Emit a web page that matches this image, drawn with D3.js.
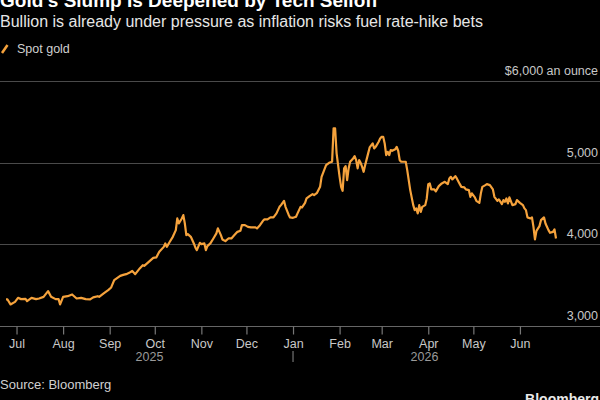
<!DOCTYPE html>
<html>
<head>
<meta charset="utf-8">
<script src="https://cdn.jsdelivr.net/npm/d3@7"></script>
<style>
  html, body { margin: 0; padding: 0; background: #000; }
  svg { display: block; }
  text { font-family: "Liberation Sans", Arial, sans-serif; }
</style>
</head>
<body>
<svg id="chart" width="600" height="400"></svg>
<script>
// values (days counted from 1 Jul 2025)
const startDay = "2025-07-01";
const dayOffsets = [
  -7, -6, -4, -1, 1, 3, 6, 7, 10, 13, 15, 18, 21, 23, 26, 28, 29, 31, 34, 37,
  40, 43, 46, 49, 51, 54, 55, 58, 61, 63, 65, 69, 71, 73, 75, 77, 79, 82, 84, 85,
  88, 91, 93, 95, 98, 99, 100, 102, 104, 106, 107, 108, 110, 111, 112, 113, 114, 116, 118, 119,
  120, 122, 123, 125, 126, 127, 129, 131, 133, 134, 136, 137, 139, 141, 143, 145, 147, 149, 150, 152,
  154, 156, 159, 160, 162, 164, 165, 167, 169, 171, 173, 175, 176, 178, 179, 181, 182, 184, 186, 187,
  189, 190, 192, 193, 195, 197, 198, 200, 202, 203, 206, 208, 210, 211, 212, 213, 215, 216, 217, 218,
  219, 220, 221, 222, 224, 225, 226, 227, 228, 229, 230, 231, 232, 234, 235, 237, 238, 239, 241, 242,
  243, 244, 245, 246, 247, 248, 249, 250, 252, 253, 254, 255, 256, 259, 260, 262, 264, 265, 266, 267,
  268, 269, 270, 272, 273, 274, 275, 276, 278, 279, 281, 283, 285, 287, 288, 289, 290, 292, 293, 295,
  296, 298, 299, 301, 302, 303, 305, 306, 308, 309, 310, 312, 313, 315, 317, 318, 320, 321, 323, 324,
  325, 326, 327, 328, 330, 332, 333, 335, 337, 338, 339, 340, 342, 343, 344, 345, 346, 348, 349, 351,
  352, 354, 355, 357, 358, 359
];
const spotGold = [
  3325, 3325, 3264, 3296, 3345, 3329, 3332, 3304, 3345, 3329, 3337, 3357, 3427, 3357, 3329, 3329, 3264, 3357, 3365, 3386,
  3337, 3345, 3329, 3325, 3350, 3365, 3357, 3399, 3439, 3472, 3561, 3614, 3626, 3635, 3651, 3675, 3635, 3705, 3745, 3737,
  3786, 3835, 3840, 3908, 3969, 4011, 3969, 4031, 4092, 4174, 4317, 4256, 4317, 4358, 4256, 4113, 4125, 4092, 4011, 3962,
  3929, 4018, 4002, 4011, 3929, 3978, 4011, 4072, 4134, 4195, 4113, 4060, 4039, 4072, 4072, 4113, 4153, 4166, 4235, 4235,
  4214, 4207, 4207, 4195, 4235, 4288, 4305, 4305, 4330, 4330, 4379, 4459, 4480, 4533, 4459, 4366, 4330, 4325, 4337, 4379,
  4459, 4452, 4508, 4562, 4590, 4615, 4603, 4631, 4704, 4827, 4970, 4998, 5011, 5420, 5420, 5114, 4827, 4704, 4655, 4930,
  4958, 4786, 4930, 5011, 5052, 5080, 5031, 4930, 5031, 4998, 4949, 4888, 4970, 5114, 5187, 5236, 5175, 5194, 5256, 5297,
  5317, 5317, 5236, 5093, 5133, 5093, 5154, 5145, 5163, 5194, 5145, 5031, 5011, 5011, 4909, 4664, 4480, 4419, 4440, 4379,
  4480, 4398, 4459, 4480, 4562, 4737, 4746, 4673, 4673, 4648, 4713, 4746, 4766, 4737, 4807, 4827, 4795, 4835, 4807, 4737,
  4704, 4697, 4673, 4664, 4582, 4624, 4575, 4533, 4508, 4624, 4704, 4725, 4737, 4725, 4673, 4582, 4533, 4550, 4492, 4541,
  4521, 4562, 4501, 4575, 4480, 4492, 4541, 4508, 4480, 4440, 4419, 4330, 4317, 4330, 4214, 4060, 4165, 4223, 4296, 4330,
  4256, 4174, 4141, 4153, 4183, 4072
];
const yTicks = [3000, 4000, 5000, 6000];
const yTickLabels = ["3,000", "4,000", "5,000", "$6,000 an ounce"];
const yearLabels = ["2025", "2026"];

const title = "Gold's Slump Is Deepened by Tech Selloff";
const subtitle = "Bullion is already under pressure as inflation risks fuel rate-hike bets";
const seriesName = "Spot gold";
const source = "Source: Bloomberg";

const width = 600, height = 400;
const lineColour = "#f5a23c";

const start = d3.utcParse("%Y-%m-%d")(startDay);
const data = dayOffsets.map((d, i) => ({date: d3.utcDay.offset(start, d), value: spotGold[i]}));

const x = d3.scaleUtc()
    .domain(d3.extent(data, d => d.date))
    .range([6, 556]);

const y = d3.scaleLinear()
    .domain([3000, 6000])
    .range([326, 81]);

const svg = d3.select("#chart");

svg.append("rect")
    .attr("width", width)
    .attr("height", height)
    .attr("fill", "#000");

// header (title is cropped at the top like the reference)
svg.append("text")
    .attr("x", 0)
    .attr("y", 7)
    .attr("fill", "#fff")
    .attr("font-size", 19)
    .attr("font-weight", "bold")
    .text(title);

svg.append("text")
    .attr("x", 0)
    .attr("y", 27)
    .attr("fill", "#e6e6e6")
    .attr("font-size", 16)
    .text(subtitle);

// legend
svg.append("line")
    .attr("x1", 2).attr("y1", 53)
    .attr("x2", 7.5).attr("y2", 45)
    .attr("stroke", lineColour)
    .attr("stroke-width", 2.5);

svg.append("text")
    .attr("x", 17)
    .attr("y", 53)
    .attr("fill", "#d0d0d0")
    .attr("font-size", 12.5)
    .text(seriesName);

// gridlines + right labels
const grid = svg.append("g");
grid.selectAll("line")
    .data(yTicks)
    .join("line")
    .attr("x1", 0)
    .attr("x2", width)
    .attr("y1", d => Math.round(y(d)) + 0.5)
    .attr("y2", d => Math.round(y(d)) + 0.5)
    .attr("stroke", d => d === 3000 ? "#666" : "#4a4a4a")
    .attr("stroke-width", 1.2);

grid.selectAll("text")
    .data(yTicks)
    .join("text")
    .attr("x", 598)
    .attr("y", d => y(d) - 6)
    .attr("text-anchor", "end")
    .attr("fill", "#c8c8c8")
    .attr("font-size", 12.5)
    .text((d, i) => yTickLabels[i]);

// x axis
const months = d3.utcMonth.range(d3.utcMonth.ceil(x.domain()[0]), x.domain()[1]);

const xAxis = svg.append("g")
    .attr("transform", "translate(0," + (Math.round(y(3000)) + 0.5) + ")")
    .call(d3.axisBottom(x)
        .tickValues(months)
        .tickSize(8)
        .tickPadding(5)
        .tickFormat(d3.utcFormat("%b")));

xAxis.select(".domain").remove();
xAxis.selectAll(".tick line")
    .attr("stroke", "#777")
    .attr("stroke-width", 1.2);
xAxis.selectAll(".tick text")
    .attr("fill", "#c8c8c8")
    .attr("font-size", 12.5)
    .attr("font-family", "Liberation Sans, Arial, sans-serif");

// year labels centred on their part of the data, with separator at Jan
const jan = d3.utcYear.ceil(x.domain()[0]);
const yearSpans = [[x.domain()[0], jan], [jan, x.domain()[1]]];

svg.append("g")
    .selectAll("text")
    .data(yearSpans)
    .join("text")
    .attr("x", d => (x(d[0]) + x(d[1])) / 2)
    .attr("y", 361)
    .attr("text-anchor", "middle")
    .attr("fill", "#9a9a9a")
    .attr("font-size", 12.5)
    .text((d, i) => yearLabels[i]);

svg.append("line")
    .attr("x1", x(jan)).attr("x2", x(jan))
    .attr("y1", 351).attr("y2", 362)
    .attr("stroke", "#8a8a8a")
    .attr("stroke-width", 1);

// the series
const line = d3.line()
    .x(d => x(d.date))
    .y(d => y(d.value));

svg.append("path")
    .datum(data)
    .attr("fill", "none")
    .attr("stroke", lineColour)
    .attr("stroke-width", 2.2)
    .attr("stroke-linejoin", "round")
    .attr("d", line);

// footer
svg.append("text")
    .attr("x", 0)
    .attr("y", 389)
    .attr("fill", "#d0d0d0")
    .attr("font-size", 13)
    .text(source);

svg.append("text")
    .attr("x", 599)
    .attr("y", 404)
    .attr("text-anchor", "end")
    .attr("fill", "#e8e8e8")
    .attr("font-size", 14)
    .attr("font-weight", "bold")
    .text("Bloomberg");
</script>
</body>
</html>
